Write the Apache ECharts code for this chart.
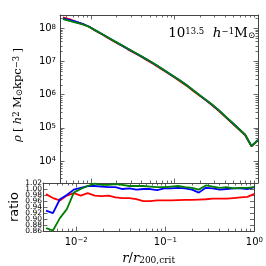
<!DOCTYPE html>
<html><head><meta charset="utf-8">
<script src="https://cdn.jsdelivr.net/npm/echarts@6/dist/echarts.min.js"></script>
<style>html,body{margin:0;padding:0;background:#fff}#c{width:266px;height:266px}</style>
</head><body><div id="c"></div>
<script>
// radius bins, r / r200,crit
const radius = [0.004571,0.005470,0.006546,0.007834,0.009376,0.01122,0.01343,0.01607,0.01923,0.02301,
  0.02754,0.03296,0.03945,0.04721,0.05649,0.06761,0.08091,0.09683,0.1159,0.1387,
  0.1660,0.1986,0.2377,0.2844,0.3404,0.4074,0.4875,0.5834,0.6982,0.8356,1.0];
// density profiles [h^2 Msun kpc^-3]
const rhoRed = [2.118e8,1.876e8,1.568e8,1.362e8,1.115e8,8.44e7,6.57e7,5.00e7,3.87e7,3.02e7,
  2.32e7,1.80e7,1.41e7,1.08e7,8.26e6,6.19e6,4.62e6,3.44e6,2.55e6,1.87e6,
  1.32e6,9.38e5,6.74e5,4.72e5,3.23e5,2.12e5,1.40e5,9.28e4,6.11e4,2.77e4,4.22e4];
const rhoBlue = [2.000e8,1.779e8,1.575e8,1.365e8,1.129e8,8.66e7,6.73e7,5.16e7,4.00e7,3.11e7,
  2.40e7,1.86e7,1.45e7,1.12e7,8.60e6,6.45e6,4.78e6,3.59e6,2.66e6,1.95e6,
  1.37e6,9.71e5,6.90e5,4.91e5,3.35e5,2.19e5,1.45e5,9.59e4,6.30e4,2.84e4,4.32e4];
const rhoGreen = [1.875e8,1.667e8,1.472e8,1.300e8,1.117e8,8.63e7,6.73e7,5.20e7,4.03e7,3.13e7,
  2.43e7,1.89e7,1.46e7,1.13e7,8.69e6,6.50e6,4.83e6,3.60e6,2.67e6,1.96e6,
  1.38e6,9.77e5,6.97e5,4.95e5,3.37e5,2.20e5,1.46e5,9.59e4,6.32e4,2.85e4,4.32e4];
// ratios
const ratioRed = [0.983,0.970,0.962,0.978,0.986,0.978,0.986,0.978,0.976,0.978,
  0.972,0.970,0.970,0.966,0.960,0.960,0.962,0.962,0.962,0.963,
  0.964,0.964,0.965,0.966,0.968,0.968,0.968,0.970,0.972,0.974,0.984];
const ratioBlue = [0.928,0.920,0.966,0.980,0.998,1.004,1.010,1.010,1.008,1.006,
  1.006,1.000,1.002,0.998,1.000,1.000,0.996,1.002,1.002,1.004,
  1.002,0.998,0.988,1.004,1.002,0.998,1.000,1.002,1.002,1.000,1.006];
const ratioGreen = [0.870,0.862,0.903,0.933,0.988,1.000,1.010,1.018,1.014,1.014,
  1.016,1.014,1.010,1.010,1.010,1.008,1.006,1.006,1.008,1.010,
  1.006,1.004,0.998,1.012,1.008,1.004,1.006,1.002,1.004,1.004,1.006];
const xTickLabels = ['10^-2','10^-1','10^0'];
const yTickLabels = ['10^4','10^5','10^6','10^7','10^8'];
const ratioTicks = [0.86,0.88,0.90,0.92,0.94,0.96,0.98,1.00,1.02];

const XMIN = 0.00423, XMAX = 1.0;
const YMIN = 2190, YMAX = 2.51e8;
const RMIN = 0.86, RMAX = 1.02;

const pairs = (xs, ys) => xs.map((x, i) => [x, ys[i]]);
const AX = '#444';
const supRich = {
  b: {fontSize: 10, fontFamily: 'DejaVu Sans', color: '#000', lineHeight: 10, verticalAlign: 'bottom'},
  s: {fontSize: 7, fontFamily: 'DejaVu Sans', color: '#000', lineHeight: 7, verticalAlign: 'top', padding: [0, 0, 6, 0]}
};
function powLabel(v) {
  const e = Math.log10(v), n = Math.round(e);
  if (Math.abs(e - n) > 1e-6) return '';
  const lbl = '10^' + n;
  const t = (xTickLabels.indexOf(lbl) >= 0 || yTickLabels.indexOf(lbl) >= 0) ? lbl : '';
  if (!t) return '';
  return '{b|10}{s|' + (n < 0 ? '\u2212' + (-n) : n) + '}';
}
function ratioLabel(parity) {
  return function (v) {
    const idx = ratioTicks.findIndex(t => Math.abs(t - v) < 1e-6);
    return (idx < 0 || idx % 2 !== parity) ? '' : ratioTicks[idx].toFixed(2);
  };
}
function logMinors(lo, hi) {
  const out = [];
  for (let d = Math.floor(Math.log10(lo)); d <= Math.ceil(Math.log10(hi)); d++) {
    for (let k = 2; k <= 9; k++) { const v = k * Math.pow(10, d); if (v > lo && v < hi) out.push(v); }
  }
  return out;
}
const tickStyle = {stroke: AX, lineWidth: 0.8};
function minorXRender(params, api) {
  const cs = params.coordSys;
  const x = Math.round(api.coord([api.value(0), api.value(1)])[0]) + 0.5;
  return {type: 'group', children: [
    {type: 'line', shape: {x1: x, y1: cs.y + cs.height, x2: x, y2: cs.y + cs.height - 2.5}, style: tickStyle},
    {type: 'line', shape: {x1: x, y1: cs.y, x2: x, y2: cs.y + 2.5}, style: tickStyle}
  ]};
}
function minorYRender(params, api) {
  const cs = params.coordSys;
  const y = Math.round(api.coord([api.value(0), api.value(1)])[1]) + 0.5;
  return {type: 'group', children: [
    {type: 'line', shape: {x1: cs.x, y1: y, x2: cs.x + 2.5, y2: y}, style: tickStyle},
    {type: 'line', shape: {x1: cs.x + cs.width, y1: y, x2: cs.x + cs.width - 2.5, y2: y}, style: tickStyle}
  ]};
}
const xMinor = logMinors(XMIN, XMAX);
const yMinor = logMinors(YMIN, YMAX);

const baseAxis = {
  axisLine: {lineStyle: {color: AX, width: 1}},
  axisTick: {inside: true, length: 4.5, lineStyle: {color: AX, width: 0.8}},
  splitLine: {show: false}
};
function xAx(grid, pos, labels) {
  return Object.assign({}, baseAxis, {
    type: 'log', logBase: 10, min: XMIN, max: XMAX, gridIndex: grid, position: pos,
    axisLabel: labels ? {show: true, margin: 6, formatter: powLabel, rich: supRich, showMinLabel: false} : {show: false}
  });
}
const ratioLabelStyle = {margin: 1, fontSize: 7.5, fontFamily: 'DejaVu Sans', color: '#000',
  showMinLabel: true, showMaxLabel: true, hideOverlap: false};
const option = {
  animation: false,
  grid: [
    {left: 43, top: 15, width: 215, height: 168},
    {left: 43, top: 183, width: 215, height: 53}
  ],
  xAxis: [
    xAx(0, 'bottom', false),
    xAx(0, 'top', false),
    Object.assign(xAx(1, 'bottom', true), {
      name: '{i|r}{r|/}{i|r}{sb|200,crit}', nameLocation: 'middle', nameGap: 20,
      nameTextStyle: {rich: {
        i: {fontSize: 13, fontFamily: 'DejaVu Serif', fontStyle: 'italic', color: '#000', lineHeight: 13, verticalAlign: 'top'},
        r: {fontSize: 13, fontFamily: 'DejaVu Serif', color: '#000', lineHeight: 13, verticalAlign: 'top'},
        sb: {fontSize: 9, fontFamily: 'DejaVu Serif', color: '#000', lineHeight: 9, verticalAlign: 'bottom', padding: [5, 0, 0, 0]}
      }}
    }),
    xAx(1, 'top', false)
  ],
  yAxis: [
    Object.assign({}, baseAxis, {
      type: 'log', logBase: 10, min: YMIN, max: YMAX, gridIndex: 0, position: 'left',
      axisLabel: {margin: 4, formatter: powLabel, rich: supRich, showMinLabel: false, showMaxLabel: false},
      name: '{i|ρ} {r|[} {i|h}{sp|2} {r|M}{sb|⊙}{r|kpc}{sp|−3} {r|]}', nameLocation: 'middle', nameRotate: 90, nameGap: 30,
      nameTextStyle: {padding: [0, 0, 0, 8], rich: {
        i: {fontSize: 11.5, fontFamily: 'DejaVu Serif', fontStyle: 'italic', color: '#000', lineHeight: 12, verticalAlign: 'middle'},
        r: {fontSize: 11.5, fontFamily: 'DejaVu Serif', color: '#000', lineHeight: 12, verticalAlign: 'middle'},
        sp: {fontSize: 8.5, fontFamily: 'DejaVu Serif', color: '#000', lineHeight: 8.5, verticalAlign: 'top', padding: [0, 0, 7, 0]},
        sb: {fontSize: 8.5, fontFamily: 'DejaVu Serif', color: '#000', lineHeight: 8.5, verticalAlign: 'bottom', padding: [7, 0, 0, 0]}
      }}
    }),
    Object.assign({}, baseAxis, {
      type: 'log', logBase: 10, min: YMIN, max: YMAX, gridIndex: 0, position: 'right', axisLabel: {show: false}
    }),
    Object.assign({}, baseAxis, {
      type: 'value', min: RMIN, max: RMAX, interval: 0.02, gridIndex: 1, position: 'left',
      axisLabel: Object.assign({formatter: ratioLabel(0)}, ratioLabelStyle),
      name: 'ratio', nameLocation: 'middle', nameRotate: 90, nameGap: 22, nameMoveOverlap: false,
      nameTextStyle: {fontSize: 13, fontFamily: 'DejaVu Sans', color: '#000', verticalAlign: 'bottom'}
    }),
    Object.assign({}, baseAxis, {
      type: 'value', min: RMIN, max: RMAX, interval: 0.02, gridIndex: 1, position: 'right', axisLabel: {show: false}
    }),
    {
      type: 'value', min: RMIN, max: RMAX, interval: 0.02, gridIndex: 1, position: 'left',
      axisLine: {show: false}, axisTick: {show: false}, splitLine: {show: false},
      axisLabel: Object.assign({formatter: ratioLabel(1)}, ratioLabelStyle)
    }
  ],
  graphic: [{
    type: 'text', right: 11, top: 24, silent: true,
    style: {
      text: '{r|10}{sp|13.5}{r|  }{i|h}{sp|−1}{r|M}{sb|⊙}',
      rich: {
        r: {fontSize: 13.5, fontFamily: 'DejaVu Serif', color: '#000', lineHeight: 13, verticalAlign: 'middle'},
        i: {fontSize: 13.5, fontFamily: 'DejaVu Serif', fontStyle: 'italic', color: '#000', lineHeight: 13, verticalAlign: 'middle'},
        sp: {fontSize: 8.5, fontFamily: 'DejaVu Serif', color: '#000', lineHeight: 8.5, verticalAlign: 'top', padding: [0, 0, 7, 0]},
        sb: {fontSize: 8.5, fontFamily: 'DejaVu Serif', color: '#000', lineHeight: 8.5, verticalAlign: 'bottom', padding: [7, 0, 0, 0]}
      }
    }
  }],
  series: [
    {type: 'custom', xAxisIndex: 0, yAxisIndex: 0, renderItem: minorXRender, data: xMinor.map(v => [v, 1e6]), silent: true, clip: false},
    {type: 'custom', xAxisIndex: 0, yAxisIndex: 0, renderItem: minorYRender, data: yMinor.map(v => [0.1, v]), silent: true, clip: false},
    {type: 'custom', xAxisIndex: 2, yAxisIndex: 2, renderItem: minorXRender, data: xMinor.map(v => [v, 0.9]), silent: true, clip: false},
    {type: 'line', xAxisIndex: 0, yAxisIndex: 0, data: pairs(radius, rhoRed), showSymbol: false, lineStyle: {color: '#ff0000', width: 1.8}},
    {type: 'line', xAxisIndex: 0, yAxisIndex: 0, data: pairs(radius, rhoBlue), showSymbol: false, lineStyle: {color: '#0000ff', width: 1.8}},
    {type: 'line', xAxisIndex: 0, yAxisIndex: 0, data: pairs(radius, rhoGreen), showSymbol: false, lineStyle: {color: '#008000', width: 1.8}},
    {type: 'line', xAxisIndex: 2, yAxisIndex: 2, data: pairs(radius, ratioRed), showSymbol: false, lineStyle: {color: '#ff0000', width: 1.8}},
    {type: 'line', xAxisIndex: 2, yAxisIndex: 2, data: pairs(radius, ratioBlue), showSymbol: false, lineStyle: {color: '#0000ff', width: 1.8}},
    {type: 'line', xAxisIndex: 2, yAxisIndex: 2, data: pairs(radius, ratioGreen), showSymbol: false, lineStyle: {color: '#008000', width: 1.8}}
  ]
};
const chart = echarts.init(document.getElementById('c'), null, {renderer: 'canvas'});
chart.setOption(option);
</script></body></html>
